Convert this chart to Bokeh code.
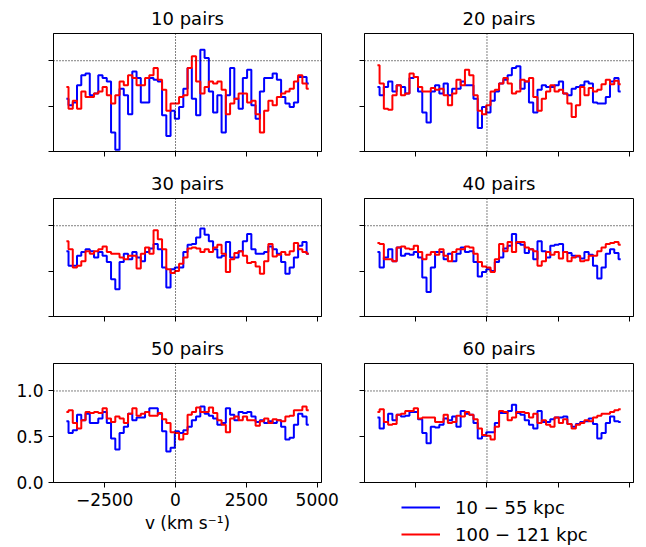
from bokeh.plotting import figure
from bokeh.layouts import column, row
from bokeh.models import (Range1d, Span, FixedTicker, Legend, LegendItem,
                          CustomJSTickFormatter)
from bokeh.embed import file_html
from bokeh.resources import INLINE

FONT = "DejaVu Sans"

# velocity grid (km/s)
velocity = list(range(-3850, 4701, 150))

panel_titles = ["10 pairs", "20 pairs", "30 pairs", "40 pairs", "50 pairs", "60 pairs"]
x_ticks = [-2500, 0, 2500, 5000]
y_ticks = [0.0, 0.5, 1.0]
legend_labels = ["10 \u2212 55 kpc", "100 \u2212 121 kpc"]

# 10-55 kpc (blue)
near_10 = [0.58,0.51,0.54,0.73,0.84,0.86,0.62,0.64,0.84,0.81,
           0.77,0.21,0.02,0.69,0.62,0.41,0.88,0.81,0.54,0.54,
           0.81,0.79,0.77,0.40,0.17,0.45,0.36,0.49,0.69,0.92,
           0.58,0.40,1.12,1.03,0.66,0.43,0.62,0.21,0.62,0.92,
           0.58,0.47,0.81,0.90,0.51,0.36,0.66,0.81,0.81,0.86,
           0.79,0.60,0.53,0.49,0.54,0.82,0.82,0.75]
near_20 = [0.71,0.62,0.71,0.77,0.66,0.73,0.71,0.64,0.81,0.82,
           0.66,0.43,0.32,0.66,0.73,0.64,0.75,0.62,0.69,0.69,
           0.77,0.73,0.73,0.58,0.26,0.49,0.43,0.56,0.66,0.75,
           0.79,0.84,0.92,0.94,0.69,0.77,0.54,0.43,0.68,0.73,
           0.71,0.71,0.73,0.77,0.64,0.62,0.69,0.71,0.73,0.77,
           0.75,0.54,0.53,0.53,0.60,0.77,0.81,0.66]
near_30 = [0.72,0.56,0.56,0.67,0.71,0.74,0.72,0.65,0.71,0.67,
           0.60,0.41,0.30,0.60,0.69,0.63,0.71,0.65,0.61,0.71,
           0.75,0.80,0.74,0.54,0.32,0.52,0.54,0.54,0.71,0.79,
           0.80,0.87,0.97,0.90,0.83,0.74,0.65,0.67,0.82,0.65,
           0.65,0.72,0.83,0.91,0.74,0.69,0.69,0.71,0.77,0.74,
           0.69,0.60,0.47,0.54,0.65,0.78,0.82,0.69]
near_40 = [0.71,0.54,0.65,0.74,0.61,0.76,0.67,0.69,0.68,0.71,
           0.65,0.43,0.27,0.54,0.71,0.71,0.63,0.69,0.61,0.69,
           0.76,0.71,0.72,0.60,0.44,0.49,0.52,0.50,0.60,0.65,
           0.75,0.78,0.91,0.81,0.79,0.70,0.74,0.63,0.83,0.72,
           0.65,0.78,0.79,0.80,0.71,0.70,0.67,0.66,0.64,0.71,
           0.68,0.56,0.42,0.54,0.69,0.74,0.70,0.63]
near_50 = [0.67,0.54,0.57,0.74,0.68,0.75,0.65,0.65,0.70,0.77,
           0.65,0.48,0.36,0.54,0.61,0.75,0.68,0.71,0.71,0.77,
           0.81,0.81,0.75,0.56,0.34,0.38,0.56,0.54,0.57,0.61,
           0.68,0.72,0.83,0.75,0.73,0.70,0.63,0.65,0.81,0.74,
           0.68,0.77,0.76,0.77,0.72,0.66,0.68,0.65,0.67,0.65,
           0.68,0.61,0.47,0.49,0.63,0.75,0.72,0.63]
near_60 = [0.71,0.59,0.66,0.75,0.68,0.74,0.72,0.73,0.77,0.77,
           0.69,0.54,0.43,0.61,0.60,0.63,0.70,0.68,0.72,0.61,
           0.78,0.75,0.74,0.65,0.48,0.51,0.55,0.55,0.65,0.76,
           0.76,0.78,0.85,0.76,0.74,0.68,0.63,0.59,0.78,0.66,
           0.66,0.69,0.71,0.71,0.72,0.64,0.61,0.64,0.66,0.67,
           0.70,0.64,0.48,0.54,0.65,0.72,0.67,0.66]

# 100-121 kpc (red)
far_10 = [0.71,0.47,0.56,0.47,0.66,0.60,0.60,0.64,0.66,0.71,
          0.62,0.53,0.62,0.77,0.73,0.84,0.81,0.73,0.73,0.81,
          0.84,0.92,0.79,0.68,0.45,0.53,0.53,0.60,0.62,0.92,
          1.05,0.77,0.64,0.71,0.77,0.75,0.77,0.68,0.41,0.53,
          0.58,0.64,0.64,0.54,0.56,0.41,0.21,0.45,0.56,0.51,
          0.60,0.64,0.66,0.69,0.77,0.84,0.75,0.69]
far_20 = [0.95,0.75,0.47,0.46,0.62,0.73,0.62,0.64,0.86,0.82,
          0.71,0.66,0.66,0.70,0.68,0.69,0.62,0.51,0.64,0.79,
          0.73,0.90,0.84,0.62,0.45,0.41,0.51,0.66,0.68,0.75,
          0.81,0.75,0.64,0.66,0.79,0.77,0.81,0.60,0.45,0.58,
          0.66,0.73,0.66,0.68,0.64,0.53,0.38,0.51,0.71,0.62,
          0.70,0.66,0.68,0.74,0.79,0.74,0.78,0.74]
far_30 = [0.83,0.74,0.54,0.56,0.61,0.72,0.69,0.72,0.74,0.77,
          0.71,0.69,0.69,0.65,0.63,0.67,0.67,0.53,0.69,0.76,
          0.69,0.95,0.85,0.74,0.52,0.48,0.50,0.58,0.65,0.75,
          0.76,0.75,0.71,0.74,0.71,0.76,0.79,0.69,0.49,0.63,
          0.70,0.72,0.67,0.59,0.60,0.55,0.47,0.61,0.80,0.66,
          0.68,0.71,0.68,0.72,0.81,0.74,0.71,0.69]
far_40 = [0.81,0.80,0.63,0.63,0.61,0.76,0.77,0.75,0.74,0.78,
          0.71,0.63,0.68,0.71,0.68,0.74,0.67,0.61,0.71,0.74,
          0.74,0.77,0.76,0.69,0.60,0.55,0.54,0.49,0.63,0.80,
          0.72,0.82,0.71,0.82,0.82,0.76,0.74,0.72,0.56,0.61,
          0.71,0.68,0.71,0.64,0.71,0.61,0.65,0.67,0.61,0.62,
          0.67,0.67,0.72,0.76,0.80,0.81,0.82,0.79]
far_50 = [0.77,0.79,0.65,0.59,0.68,0.77,0.76,0.77,0.76,0.81,
          0.70,0.66,0.72,0.70,0.65,0.75,0.81,0.73,0.75,0.77,
          0.73,0.73,0.76,0.69,0.65,0.55,0.54,0.47,0.53,0.74,
          0.77,0.82,0.77,0.77,0.82,0.76,0.68,0.63,0.55,0.70,
          0.72,0.68,0.72,0.68,0.68,0.62,0.67,0.70,0.65,0.69,
          0.68,0.67,0.72,0.73,0.79,0.79,0.83,0.79]
far_60 = [0.77,0.80,0.66,0.63,0.64,0.74,0.75,0.78,0.78,0.81,
          0.70,0.71,0.71,0.71,0.66,0.66,0.74,0.65,0.66,0.73,
          0.72,0.77,0.74,0.69,0.59,0.52,0.51,0.47,0.61,0.78,
          0.77,0.68,0.71,0.77,0.77,0.76,0.71,0.75,0.65,0.68,
          0.63,0.61,0.71,0.65,0.69,0.64,0.59,0.63,0.65,0.68,
          0.67,0.71,0.73,0.75,0.75,0.77,0.79,0.80]

near_series = [near_10, near_20, near_30, near_40, near_50, near_60]
far_series = [far_10, far_20, far_30, far_40, far_50, far_60]

BLUE = "#0000ff"
RED = "#ff0000"

fmt_x = CustomJSTickFormatter(code="return tick < 0 ? '\u2212' + Math.abs(tick) : String(tick);")
fmt_y = CustomJSTickFormatter(code="return tick.toFixed(1);")


def blank():
    return CustomJSTickFormatter(code="return '';")


figs = []
for k in range(6):
    r, c = divmod(k, 2)
    left = c == 0
    bottom = r == 2
    if bottom:
        mb = 68 if left else 8
    else:
        mb = 14
    p = figure(
        frame_width=268 if left else 269,
        frame_height=119 if bottom else 118,
        min_border_left=53 if left else 23,
        min_border_right=20 if left else 13,
        min_border_top=32,
        min_border_bottom=mb,
        x_range=Range1d(-4305, 5150), y_range=Range1d(0, 1.3),
        output_backend="svg", toolbar_location=None, title=panel_titles[k],
    )
    p.title.text_font = FONT
    p.title.text_font_size = "18px"
    p.title.text_font_style = "normal"
    p.title.text_color = "black"
    p.title.align = "center"
    p.outline_line_color = "black"
    p.outline_line_width = 1
    p.outline_line_alpha = 1
    p.xgrid.grid_line_color = None
    p.ygrid.grid_line_color = None
    p.background_fill_color = "white"
    p.border_fill_color = "white"

    for ax in (p.xaxis[0], p.yaxis[0]):
        ax.axis_line_color = "black"
        ax.axis_line_width = 1
        ax.major_tick_line_color = "black"
        ax.major_tick_line_width = 1
        ax.major_tick_out = 5
        ax.major_tick_in = 0
        ax.minor_tick_line_color = None
        ax.major_label_text_font = FONT
        ax.major_label_text_font_size = "17px"
        ax.major_label_text_color = "black"
    p.xaxis.ticker = FixedTicker(ticks=x_ticks)
    p.yaxis.ticker = FixedTicker(ticks=y_ticks)
    if bottom and left:
        p.xaxis.formatter = fmt_x
        p.xaxis.axis_label = "v (km s\u207b\u00b9)"
        p.xaxis.axis_label_text_font = FONT
        p.xaxis.axis_label_text_font_size = "17px"
        p.xaxis.axis_label_text_font_style = "normal"
        p.xaxis.axis_label_text_color = "black"
        p.xaxis.axis_label_standoff = 4
    else:
        p.xaxis.formatter = blank()
        p.xaxis.major_label_text_font_size = "0px"
        p.xaxis.major_label_standoff = 0
    if left and bottom:
        p.yaxis.formatter = fmt_y
    else:
        p.yaxis.formatter = blank()
        p.yaxis.major_label_text_font_size = "0px"
        p.yaxis.major_label_standoff = 0

    p.add_layout(Span(location=1.0, dimension="width", line_color="black",
                      line_width=1, line_dash="1 2"))
    p.add_layout(Span(location=0, dimension="height", line_color="black",
                      line_width=1, line_dash="1 2"))

    p.step(velocity, near_series[k], mode="center", line_color=BLUE, line_width=2)
    p.step(velocity, far_series[k], mode="center", line_color=RED, line_width=2)
    figs.append(p)

# legend box below the bottom-right panel
lg = figure(width=305, height=60, x_range=Range1d(-4305, 5150), y_range=Range1d(10, 11),
            min_border=0, output_backend="svg", toolbar_location=None,
            x_axis_location=None, y_axis_location=None)
lg.outline_line_color = None
lg.xgrid.grid_line_color = None
lg.ygrid.grid_line_color = None
lg.background_fill_color = "white"
lg.border_fill_color = "white"
# renderers carrying the line styles (their data lie outside this box's range)
rb = lg.step(velocity, near_60, mode="center", line_color=BLUE, line_width=2)
rr = lg.step(velocity, far_60, mode="center", line_color=RED, line_width=2)
leg = Legend(items=[LegendItem(label=legend_labels[0], renderers=[rb]),
                    LegendItem(label=legend_labels[1], renderers=[rr])],
             location=(32, 0), orientation="vertical",
             glyph_width=39, glyph_height=22, label_height=22,
             label_standoff=15, spacing=5, padding=5, margin=0,
             label_text_font=FONT, label_text_font_size="18px",
             label_text_color="black",
             border_line_alpha=0, background_fill_alpha=0)
lg.add_layout(leg, "center")

layout = column(row(figs[0], figs[1]), row(figs[2], figs[3]),
                row(figs[4], column(figs[5], lg)))

open("out.html", "w").write(file_html(layout, INLINE))
